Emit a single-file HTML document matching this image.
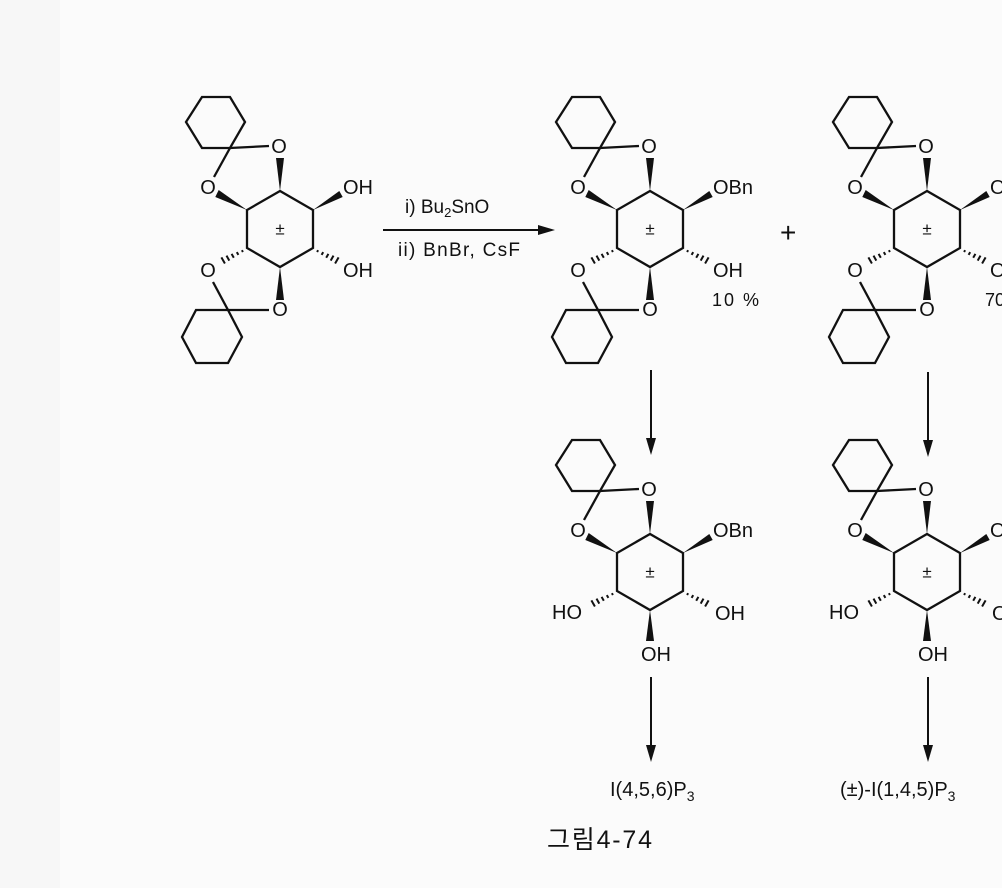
<!DOCTYPE html>
<html><head><meta charset="utf-8"><style>
html,body{margin:0;padding:0;background:#fbfbfb;}
svg{display:block;}
text{font-family:"Liberation Sans","Noto Sans CJK KR",sans-serif;fill:#111;}
</style></head><body>
<svg width="1002" height="888" viewBox="0 0 1002 888" xmlns="http://www.w3.org/2000/svg">
<rect x="0" y="0" width="1002" height="888" fill="#fbfbfb"/>
<rect x="0" y="0" width="60" height="888" fill="#f7f7f7"/>
<defs>
<g id="top" stroke="#111" stroke-width="2.3" fill="none" stroke-linejoin="miter">
  <polygon points="230,148 202,148 186,122 202,97 230,97 245,122"/>
  <line x1="230" y1="148" x2="269" y2="146"/>
  <line x1="230" y1="148" x2="214" y2="177"/>
  <polygon points="280,191 247,210 247,248 280,267 313,248 313,210"/>
  <g fill="#111" stroke="none">
    <polygon points="280,191 276,158 284,158"/>
    <polygon points="247,210 218.7,190 215.3,197"/>
    <polygon points="313,210 342.7,197 339.3,191"/>
  </g>
  <g stroke-width="2">
    <line x1="317.1" y1="252" x2="318.1" y2="250.2"/>
    <line x1="321.6" y1="254.9" x2="323.2" y2="252.1"/>
    <line x1="326.2" y1="257.7" x2="328.4" y2="253.9"/>
    <line x1="330.7" y1="260.6" x2="333.5" y2="255.6"/>
    <line x1="335.1" y1="263.5" x2="338.6" y2="257.4"/>
    <line x1="242.9" y1="252" x2="241.9" y2="250.2"/>
    <line x1="238.4" y1="254.9" x2="236.8" y2="252.1"/>
    <line x1="233.8" y1="257.7" x2="231.6" y2="253.9"/>
    <line x1="229.3" y1="260.6" x2="226.5" y2="255.6"/>
    <line x1="224.9" y1="263.5" x2="221.4" y2="257.4"/>
  </g>
</g>
<g id="bot" stroke="#111" stroke-width="2.3" fill="none">
  <polygon points="280,267 276,300 284,300" fill="#111" stroke="none"/>
  <line x1="228" y1="310" x2="269" y2="310"/>
  <line x1="228" y1="310" x2="213" y2="282"/>
  <polygon points="228,310 242,337 228,363 196,363 182,337 196,310"/>
</g>
<g id="bot2">
  <polygon points="280,267 276,298 284,298" fill="#111"/>
</g>
</defs>

<!-- starting material -->
<use href="#top"/><use href="#bot"/>
<g font-size="20" text-anchor="middle" dominant-baseline="central">
  <text x="279" y="147">O</text><text x="208" y="188">O</text>
  <text x="208" y="271">O</text><text x="280" y="310">O</text>
  <text x="280" y="229" font-size="17">±</text>
</g>
<g font-size="20" dominant-baseline="central">
  <text x="343" y="188">OH</text><text x="343" y="271">OH</text>
</g>

<!-- reaction arrow -->
<line x1="383" y1="230" x2="545" y2="230" stroke="#111" stroke-width="2"/>
<polygon points="555,230 538,225 538,235" fill="#111"/>
<text x="405" y="213" font-size="19">i) Bu<tspan font-size="13" dy="4">2</tspan><tspan dy="-4">SnO</tspan></text>
<text x="398" y="256" font-size="19" textLength="122">ii) BnBr, CsF</text>

<!-- product 1 -->
<g transform="translate(370,0)">
<use href="#top"/><use href="#bot"/>
<g font-size="20" text-anchor="middle" dominant-baseline="central">
  <text x="279" y="147">O</text><text x="208" y="188">O</text>
  <text x="208" y="271">O</text><text x="280" y="310">O</text>
  <text x="280" y="229" font-size="17">±</text>
</g>
<g font-size="20" dominant-baseline="central">
  <text x="343" y="188">OBn</text><text x="343" y="271">OH</text>
</g>
<text x="342" y="306" font-size="18" textLength="47">10 %</text>
</g>
<text x="780" y="242" font-size="28">+</text>

<!-- product 2 -->
<g transform="translate(647,0)">
<use href="#top"/><use href="#bot"/>
<g font-size="20" text-anchor="middle" dominant-baseline="central">
  <text x="279" y="147">O</text><text x="208" y="188">O</text>
  <text x="208" y="271">O</text><text x="280" y="310">O</text>
  <text x="280" y="229" font-size="17">±</text>
</g>
<g font-size="20" dominant-baseline="central">
  <text x="343" y="188">OBn</text><text x="343" y="271">OH</text>
</g>
<text x="338" y="306" font-size="18">70 %</text>
</g>

<!-- vertical arrows -->
<g stroke="#111" stroke-width="2">
  <line x1="651" y1="370" x2="651" y2="445"/>
  <line x1="928" y1="372" x2="928" y2="447"/>
  <line x1="651" y1="677" x2="651" y2="752"/>
  <line x1="928" y1="677" x2="928" y2="752"/>
</g>
<g fill="#111">
  <polygon points="651,455 646,438 656,438"/>
  <polygon points="928,457 923,440 933,440"/>
  <polygon points="651,762 646,745 656,745"/>
  <polygon points="928,762 923,745 933,745"/>
</g>

<!-- product 3 -->
<g transform="translate(370,343)">
<use href="#top"/><use href="#bot2"/>
<g font-size="20" text-anchor="middle" dominant-baseline="central">
  <text x="279" y="147">O</text><text x="208" y="188">O</text>
  <text x="286" y="312">OH</text>
  <text x="280" y="229" font-size="17">±</text>
  <text x="197" y="270">HO</text>
</g>
<g font-size="20" dominant-baseline="central">
  <text x="343" y="188">OBn</text><text x="345" y="271">OH</text>
</g>
</g>

<!-- product 4 -->
<g transform="translate(647,343)">
<use href="#top"/><use href="#bot2"/>
<g font-size="20" text-anchor="middle" dominant-baseline="central">
  <text x="279" y="147">O</text><text x="208" y="188">O</text>
  <text x="286" y="312">OH</text>
  <text x="280" y="229" font-size="17">±</text>
  <text x="197" y="270">HO</text>
</g>
<g font-size="20" dominant-baseline="central">
  <text x="343" y="188">OBn</text><text x="345" y="271">OH</text>
</g>
</g>

<text x="610" y="796" font-size="20">I(4,5,6)P<tspan font-size="14" dy="5">3</tspan></text>
<text x="840" y="796" font-size="20">(±)-I(1,4,5)P<tspan font-size="14" dy="5">3</tspan></text>
<text x="547" y="848" font-size="25" textLength="105">그림4-74</text>
</svg>
</body></html>
